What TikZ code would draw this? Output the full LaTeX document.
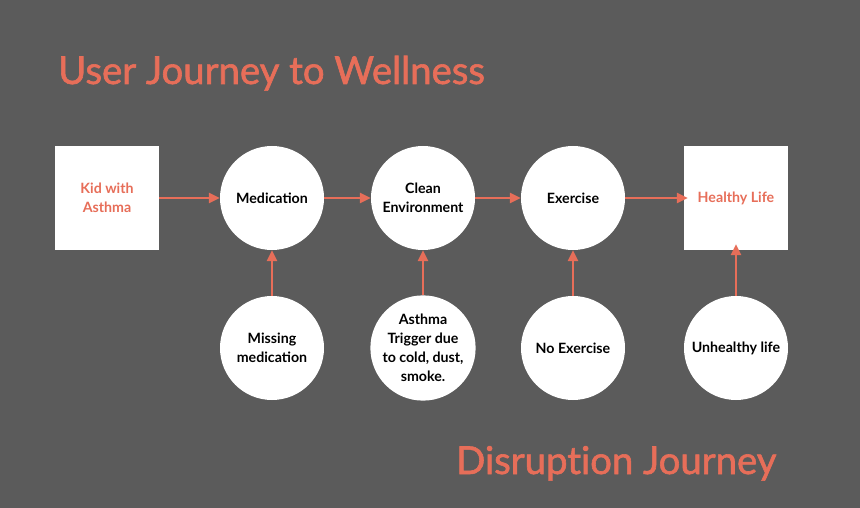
\documentclass[tikz,border=0pt]{standalone}
\usepackage{fontspec}
\setmainfont{Lato}
\newfontfamily\ttlfont{Lato}[FakeBold=1.6,Ligatures=NoCommon]
\usetikzlibrary{arrows.meta}
\definecolor{bg}{RGB}{91,91,91}
\definecolor{accent}{RGB}{231,110,89}
\tikzset{
  circ/.style={circle, fill=white, minimum size=104pt, inner sep=0pt, align=center, font=\bfseries\fontsize{14.2}{19}\selectfont, text=black},
  sq/.style={rectangle, fill=white, minimum size=104pt, inner sep=0pt, align=center, font=\bfseries\fontsize{14.2}{19}\selectfont, text=accent},
  flow/.style={draw=accent, line width=2.6pt, -{Triangle[length=11pt,width=10pt]}},
  ttl/.style={text=accent, font=\ttlfont\fontsize{38.3}{42}\selectfont, anchor=base west, inner sep=0pt}
}
\begin{document}
\begin{tikzpicture}[x=1pt,y=-1pt]
\fill[bg] (0,0) rectangle (860,508);
\useasboundingbox (0,0) rectangle (860,508);
\node[ttl] (t1) at (58,84) {User Journey to Wellness};
\node[ttl] (t2) at (456,474) {Disruption Journey};
\node[sq] (kid) at (107,198) {Kid with\\Asthma};
\node[circ] (med) at (272,198) {Medication};
\node[circ] (clean) at (423,198) {Clean\\Environment};
\node[circ] (ex) at (573,198) {Exercise};
\node[sq] (hl) at (736,198) {Healthy Life};
\node[circ] (miss) at (272,348) {Missing\\medication};
\node[circ] (trig) at (423,348) {Asthma\\Trigger due\\to cold, dust,\\smoke.};
\node[circ] (noex) at (573,348) {No Exercise};
\node[circ] (unh) at (736,348) {Unhealthy life};
\draw[flow] (kid) -- (med);
\draw[flow] (med) -- (clean);
\draw[flow] (clean) -- (ex);
\draw[flow, shorten >=-4pt] (ex) -- (hl);
\draw[flow] (miss) -- (med);
\draw[flow] (trig) -- (clean);
\draw[flow] (noex) -- (ex);
\draw[flow, shorten >=-6pt] (unh) -- (hl);
\end{tikzpicture}
\end{document}
